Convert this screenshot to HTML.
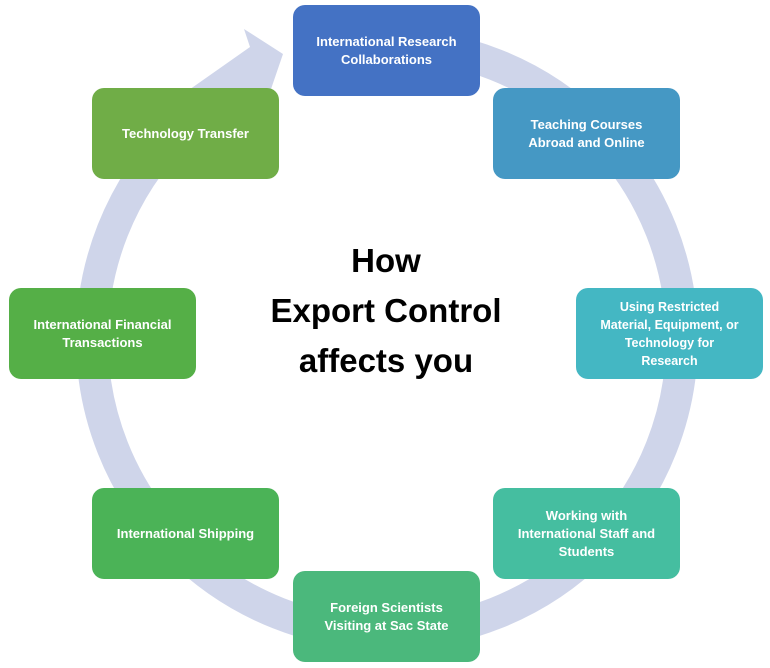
<!DOCTYPE html>
<html><head><style>
body{margin:0;width:770px;height:668px;background:#fff;position:relative;overflow:hidden;font-family:"Liberation Sans",sans-serif}
.b{position:absolute;width:187px;height:91px;border-radius:12px;color:#fff;font-weight:bold;font-size:13px;line-height:18px;display:flex;align-items:center;justify-content:center;text-align:center;box-sizing:border-box;padding:0 4px;white-space:nowrap}
.c{position:absolute;left:186px;top:236px;width:400px;text-align:center;font-weight:bold;font-size:33px;line-height:50px;color:#000}
</style></head><body>
<svg width="770" height="668" style="position:absolute;left:0;top:0">
<circle cx="387" cy="339" r="295" fill="none" stroke="#CFD5EA" stroke-width="32"/>
<rect x="232" y="0" width="61" height="88" fill="#fff"/>
<polygon points="186,92 250,47 244,29 283,54 270,92" fill="#CFD5EA"/>
</svg>
<div class="b" style="left:293px;top:5px;background:#4472C4">International Research<br>Collaborations</div>
<div class="b" style="left:493px;top:88px;background:#4598C4">Teaching Courses<br>Abroad and Online</div>
<div class="b" style="left:576px;top:288px;background:#44B7C3;font-size:12.5px">Using Restricted<br>Material, Equipment, or<br>Technology for<br>Research</div>
<div class="b" style="left:493px;top:488px;background:#45BEA0">Working with<br>International Staff and<br>Students</div>
<div class="b" style="left:293px;top:571px;background:#4BB87C">Foreign Scientists<br>Visiting at Sac State</div>
<div class="b" style="left:92px;top:488px;background:#4BB357">International Shipping</div>
<div class="b" style="left:9px;top:288px;background:#55AF47">International Financial<br>Transactions</div>
<div class="b" style="left:92px;top:88px;background:#70AD47">Technology Transfer</div>
<div class="c">How<br>Export Control<br>affects you</div>
</body></html>
